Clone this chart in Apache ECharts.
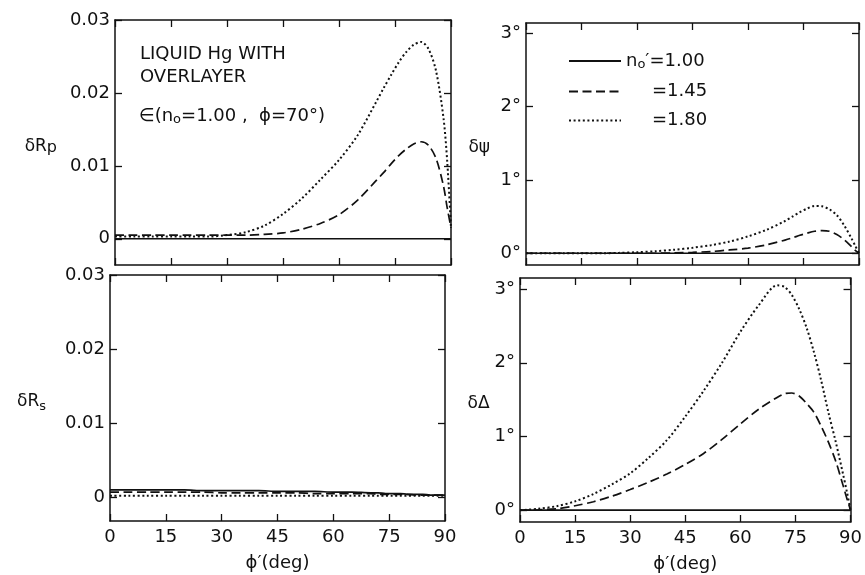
<!DOCTYPE html>
<html>
<head>
<meta charset="utf-8">
<script src="https://cdn.jsdelivr.net/npm/echarts@6/dist/echarts.min.js"></script>
<style>
  html, body { margin: 0; padding: 0; background: #fff; }
  #chart { width: 865px; height: 575px; }
</style>
</head>
<body>
<div id="chart"></div>
<script>
// Overlayer angle of incidence phi' (deg), shared by every curve
const angles = [0, 5, 10, 15, 20, 25, 30, 35, 40, 45, 50, 55, 60, 65, 70, 72, 74, 76, 78, 80, 82, 84, 86, 88, 89, 90];

// delta R_p for n0' = 1.00, 1.45, 1.80
const rpSolid  = [0, 0, 0, 0, 0, 0, 0, 0, 0, 0, 0, 0, 0, 0, 0, 0, 0, 0, 0, 0, 0, 0, 0, 0, 0, 0];
const rpDashed = [0.0005, 0.0005, 0.0005, 0.0005, 0.0005, 0.0005, 0.0005, 0.0005, 0.0006, 0.0008, 0.0013, 0.0021, 0.0033, 0.0053, 0.0080, 0.0091, 0.0103, 0.0114, 0.0123, 0.0130, 0.0133, 0.0128, 0.0110, 0.0072, 0.0042, 0.0015];
const rpDotted = [0.0003, 0.0003, 0.0003, 0.0003, 0.0003, 0.0003, 0.0005, 0.0009, 0.0018, 0.0034, 0.0055, 0.0081, 0.0108, 0.0142, 0.0188, 0.0207, 0.0225, 0.0242, 0.0256, 0.0266, 0.0270, 0.0260, 0.0230, 0.0165, 0.0105, 0.0015];

// delta R_s
const rsSolid  = [0.0010, 0.0010, 0.0010, 0.0010, 0.0010, 0.0009, 0.0009, 0.0009, 0.0009, 0.0008, 0.0008, 0.0008, 0.0007, 0.0007, 0.0006, 0.0006, 0.0005, 0.0005, 0.0005, 0.0004, 0.0004, 0.0004, 0.0003, 0.0003, 0.0003, 0.0003];
const rsDashed = [0.0007, 0.0007, 0.0007, 0.0007, 0.0007, 0.0007, 0.0006, 0.0006, 0.0006, 0.0006, 0.0006, 0.0005, 0.0005, 0.0005, 0.0005, 0.0004, 0.0004, 0.0004, 0.0004, 0.0004, 0.0003, 0.0003, 0.0003, 0.0003, 0.0003, 0.0003];
const rsDotted = [0.0002, 0.0002, 0.0002, 0.0002, 0.0002, 0.0002, 0.0002, 0.0002, 0.0002, 0.0002, 0.0002, 0.0002, 0.0002, 0.0002, 0.0002, 0.0002, 0.0002, 0.0002, 0.0002, 0.0002, 0.0002, 0.0002, 0.0002, 0.0002, 0.0002, 0.0002];

// delta psi (deg)
const psiSolid  = [0, 0, 0, 0, 0, 0, 0, 0, 0, 0, 0, 0, 0, 0, 0, 0, 0, 0, 0, 0, 0, 0, 0, 0, 0, 0];
const psiDashed = [0, 0, 0, 0, 0, 0, 0, 0, 0.005, 0.012, 0.024, 0.045, 0.07, 0.115, 0.18, 0.21, 0.245, 0.275, 0.30, 0.31, 0.30, 0.255, 0.185, 0.09, 0.04, 0];
const psiDotted = [0, 0, 0, 0, 0, 0.005, 0.014, 0.028, 0.048, 0.075, 0.11, 0.16, 0.23, 0.32, 0.44, 0.50, 0.56, 0.61, 0.645, 0.64, 0.60, 0.52, 0.38, 0.20, 0.10, 0];

// delta Delta (deg)
const delSolid  = [0, 0, 0, 0, 0, 0, 0, 0, 0, 0, 0, 0, 0, 0, 0, 0, 0, 0, 0, 0, 0, 0, 0, 0, 0, 0];
const delDashed = [0, 0.005, 0.02, 0.06, 0.115, 0.19, 0.28, 0.38, 0.49, 0.62, 0.77, 0.96, 1.17, 1.37, 1.53, 1.58, 1.59, 1.55, 1.45, 1.33, 1.14, 0.92, 0.66, 0.33, 0.16, 0];
const delDotted = [0, 0.02, 0.055, 0.12, 0.22, 0.35, 0.50, 0.71, 0.95, 1.27, 1.62, 2.00, 2.42, 2.78, 3.05, 3.03, 2.92, 2.73, 2.48, 2.15, 1.76, 1.32, 0.92, 0.48, 0.25, 0];

// Axis ticks and their labels
const angleTicks = [0, 15, 30, 45, 60, 75, 90];
const reflTicks = [0, 0.01, 0.02, 0.03];
const reflTickLabels = ['0', '0.01', '0.02', '0.03'];
const degTicks = [0, 1, 2, 3];
const degTickLabels = ['0°', '1°', '2°', '3°'];

// Legend entries (overlayer index)
const indexNames = ["n0'=1.00", '=1.45', '=1.80'];

const FONT = 'DejaVu Sans';
const INK = '#111';

const lineTypes = [
  { type: 'solid', width: 1.7 },
  { type: [9, 4.5], width: 1.7 },
  { type: [2, 2.6], width: 2 }
];

const panels = [
  { grid: { left: 115, top: 20, width: 336, height: 245 }, range: [-0.0036, 0.03], ticks: reflTicks, labels: reflTickLabels,
    curves: [rpSolid, rpDashed, rpDotted], xLabels: false, yName: '{a|δR}{p|p}', nameGap: 58 },
  { grid: { left: 110, top: 275, width: 335, height: 246 }, range: [-0.0032, 0.03], ticks: reflTicks, labels: reflTickLabels,
    curves: [rsSolid, rsDashed, rsDotted], xLabels: true, yName: '{a|δR}{s|s}', nameGap: 64 },
  { grid: { left: 526, top: 23, width: 333, height: 242 }, range: [-0.16, 3.14], ticks: degTicks, labels: degTickLabels,
    curves: [psiSolid, psiDashed, psiDotted], xLabels: false, yName: '{a|δψ}', nameGap: 36 },
  { grid: { left: 520, top: 278, width: 334, height: 244 }, range: [-0.16, 3.15], ticks: degTicks, labels: degTickLabels,
    curves: [delSolid, delDashed, delDotted], xLabels: true, yName: '{a|δΔ}', nameGap: 30 }
];

const axisLine = { show: true, onZero: false, lineStyle: { color: INK, width: 1.5 } };
const tickStyle = { show: true, inside: true, length: 7, lineStyle: { color: INK, width: 1.3 } };
const nameRich = {
  a: { fontFamily: FONT, fontSize: 17, color: INK },
  p: { fontFamily: FONT, fontSize: 16, color: INK, padding: [2, 0, 0, 0] },
  s: { fontFamily: FONT, fontSize: 13, color: INK, padding: [10, 0, 0, 0] }
};

const grids = [], xAxes = [], yAxes = [], series = [];
panels.forEach((p, i) => {
  grids.push(p.grid);
  const fmt = v => {
    const k = p.ticks.findIndex(t => Math.abs(t - v) < 1e-9);
    return k >= 0 ? p.labels[k] : '';
  };
  xAxes.push({
    type: 'value', gridIndex: i, position: 'bottom', min: 0, max: 90, interval: 15,
    axisLine, axisTick: tickStyle, splitLine: { show: false },
    axisLabel: { show: p.xLabels, margin: 7, fontFamily: FONT, fontSize: 18, color: INK },
    name: p.xLabels ? 'ϕ′(deg)' : '', nameLocation: 'middle', nameGap: 33,
    nameTextStyle: { fontFamily: FONT, fontSize: 18, color: INK }
  });
  xAxes.push({
    type: 'value', gridIndex: i, position: 'top', min: 0, max: 90, interval: 15,
    axisLine, axisTick: tickStyle, splitLine: { show: false }, axisLabel: { show: false }
  });
  yAxes.push({
    type: 'value', gridIndex: i, position: 'left', min: p.range[0], max: p.range[1],
    axisLine, splitLine: { show: false },
    axisTick: Object.assign({ customValues: p.ticks }, tickStyle),
    axisLabel: { customValues: p.ticks, formatter: fmt, margin: 5, fontFamily: FONT, fontSize: 18, color: INK },
    name: p.yName, nameLocation: 'middle', nameRotate: 0, nameGap: p.nameGap,
    nameTextStyle: { rich: nameRich, align: 'right', verticalAlign: 'middle', padding: [8, 0, 0, 0] }
  });
  yAxes.push({
    type: 'value', gridIndex: i, position: 'right', min: p.range[0], max: p.range[1],
    axisLine, splitLine: { show: false },
    axisTick: Object.assign({ customValues: p.ticks }, tickStyle),
    axisLabel: { show: false }
  });
  p.curves.forEach((vals, k) => {
    series.push({
      type: 'line', name: indexNames[k], xAxisIndex: 2 * i, yAxisIndex: 2 * i,
      data: angles.map((a, j) => [a, vals[j]]),
      symbol: 'none', smooth: 0.3, silent: true,
      lineStyle: { color: INK, type: lineTypes[k].type, width: lineTypes[k].width, cap: 'butt' },
      itemStyle: { color: INK },
      z: 3 - k
    });
  });
});

const chart = echarts.init(document.getElementById('chart'), null, { renderer: 'canvas' });
chart.setOption({
  animation: false,
  backgroundColor: '#fff',
  grid: grids,
  xAxis: xAxes,
  yAxis: yAxes,
  series,
  legend: {
    data: indexNames, orient: 'vertical', left: 563, top: 47,
    itemWidth: 52, itemHeight: 14, itemGap: 11, selectedMode: false,
    itemStyle: { opacity: 0 },
    textStyle: { fontFamily: FONT, fontSize: 18, color: INK,
      rich: {
        t: { fontFamily: FONT, fontSize: 18, color: INK, padding: [0, 0, 0, 0] },
        o: { fontFamily: FONT, fontSize: 13, color: INK, padding: [8, 0, 0, 0] },
        pr: { fontFamily: FONT, fontSize: 18, color: INK },
        q: { fontFamily: FONT, fontSize: 18, color: INK, padding: [0, 0, 0, 26] }
      } },
    formatter: name => name === indexNames[0] ? '{t|n}{o|o}{pr|′=1.00}' : '{q|' + name + '}'
  },
  graphic: [
    { type: 'text', left: 140, top: 45, style: { text: 'LIQUID Hg WITH', font: '18px "DejaVu Sans"', fill: INK } },
    { type: 'text', left: 140, top: 68, style: { text: 'OVERLAYER', font: '18px "DejaVu Sans"', fill: INK } },
    { type: 'text', left: 139, top: 107, style: {
        text: '{m|∈(n}{o|o}{m|=1.00 ,  ϕ=70°)}',
        rich: {
          m: { fontFamily: FONT, fontSize: 18, fill: INK },
          o: { fontFamily: FONT, fontSize: 13, fill: INK, padding: [8, 0, 0, 0] }
        } } }
  ]
});
</script>
</body>
</html>
